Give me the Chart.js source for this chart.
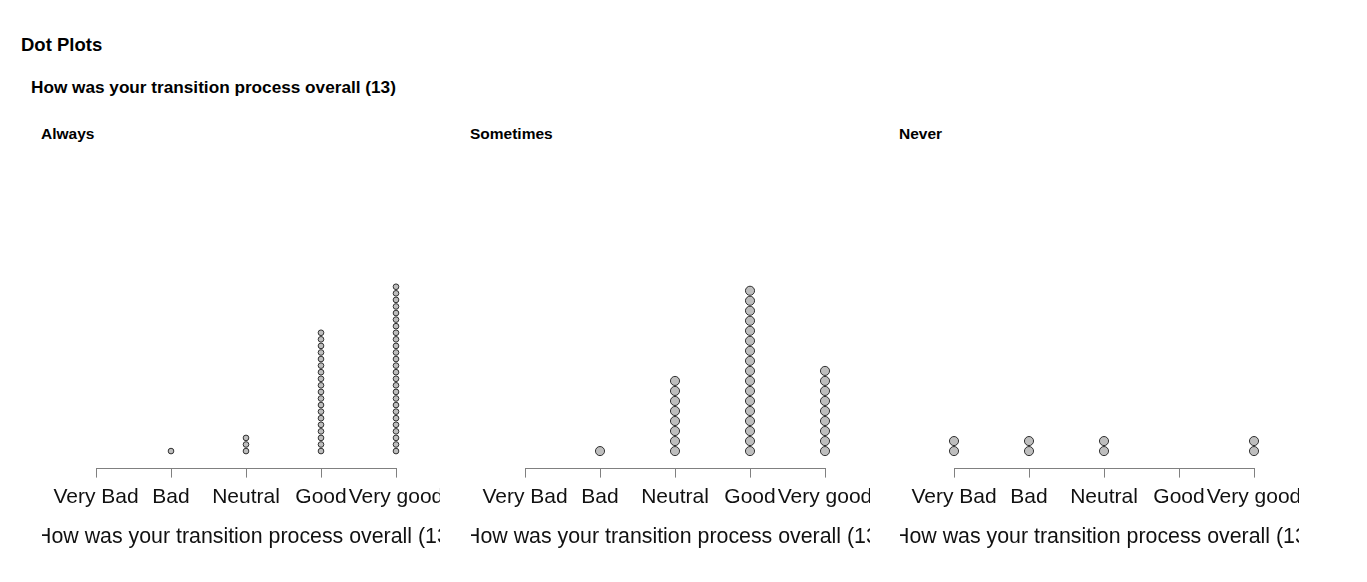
<!DOCTYPE html>
<html>
<head>
<meta charset="utf-8">
<script src="https://cdn.jsdelivr.net/npm/chart.js@4.4.1/dist/chart.umd.min.js"></script>
<style>
  html, body { margin: 0; padding: 0; background: #ffffff; }
  body { width: 1367px; height: 582px; position: relative; overflow: hidden; font-family: "Liberation Sans", Arial, sans-serif; }
  .t { position: absolute; font-weight: bold; color: #000; white-space: nowrap; }
  .panel { position: absolute; top: 150px; height: 432px; overflow: hidden; }
  .panel canvas { position: absolute; left: -40px; top: 0; }
</style>
</head>
<body>
<div class="t" style="left:21px;top:34px;font-size:18.5px;line-height:22px;">Dot Plots</div>
<div class="t" style="left:31px;top:77px;font-size:17.2px;line-height:21px;">How was your transition process overall (13)</div>
<div class="t" style="left:41px;top:124px;font-size:15.5px;line-height:19px;">Always</div>
<div class="t" style="left:470px;top:124px;font-size:15.5px;line-height:19px;">Sometimes</div>
<div class="t" style="left:899px;top:124px;font-size:15.5px;line-height:19px;">Never</div>

<div class="panel" style="left:42px;width:398px;"><canvas id="c0" width="480" height="432"></canvas></div>
<div class="panel" style="left:471px;width:399px;"><canvas id="c1" width="480" height="432"></canvas></div>
<div class="panel" style="left:900px;width:399px;"><canvas id="c2" width="480" height="432"></canvas></div>

<script>
// ---- Data ----
const categories = ['Very Bad', 'Bad', 'Neutral', 'Good', 'Very good'];
const groups = ['Always', 'Sometimes', 'Never'];
const alwaysCounts = [0, 1, 3, 19, 26];
const sometimesCounts = [0, 1, 8, 17, 9];
const neverCounts = [2, 2, 2, 0, 2];
const axisTitle = 'How was your transition process overall (13)';

// ---- Build charts ----
const countsByGroup = [alwaysCounts, sometimesCounts, neverCounts];
const AREA_H = 308;      // chart area height in px
const MAX_STACK = 164;   // px available for the tallest stack
const BOTTOM_GAP = 17.5; // px from axis to lowest dot centre
const FONT = '"Liberation Sans", Arial, sans-serif';
const TITLE_PAD = { top: 8, bottom: 4 };
const TITLE_SIZE = 21;        // size used to reserve layout space
const TITLE_DRAW_SIZE = 21.35; // size actually drawn

function stackPoints(counts) {
  const pts = [];
  counts.forEach((n, i) => {
    for (let k = 1; k <= n; k++) pts.push({ x: i + 1, y: k });
  });
  return pts;
}

// Draws the x-axis title without width compression (the reference lets it overflow and clip)
const axisTitlePlugin = {
  id: 'axisTitleFull',
  afterDraw(chart) {
    const sx = chart.scales.x;
    const ctx = chart.ctx;
    const lh = TITLE_SIZE * 1.2;
    ctx.save();
    ctx.font = TITLE_DRAW_SIZE + 'px ' + FONT;
    ctx.fillStyle = '#111111';
    ctx.textAlign = 'center';
    ctx.textBaseline = 'middle';
    ctx.fillText(axisTitle, (sx.left + sx.right) / 2, sx.bottom - TITLE_PAD.bottom - lh / 2);
    ctx.restore();
  }
};

countsByGroup.forEach((counts, gi) => {
  const maxN = Math.max(...counts);
  const s = Math.min(10, MAX_STACK / Math.max(1, maxN - 1));
  const yMin = 1 - BOTTOM_GAP / s;
  const yMax = yMin + AREA_H / s;
  const r = s / 2 - 0.45;

  new Chart(document.getElementById('c' + gi), {
    type: 'scatter',
    data: {
      datasets: [{
        label: groups[gi],
        data: stackPoints(counts),
        pointRadius: r,
        pointHoverRadius: r,
        pointBackgroundColor: '#BEBEBE',
        pointBorderColor: '#303030',
        pointBorderWidth: 1,
        showLine: false,
        clip: false
      }]
    },
    plugins: [axisTitlePlugin],
    options: {
      responsive: false,
      animation: false,
      events: [],
      layout: { padding: { left: 94, right: 86, top: 10, bottom: 28 } },
      plugins: { legend: { display: false }, tooltip: { enabled: false }, title: { display: false } },
      scales: {
        x: {
          type: 'linear',
          min: 1,
          max: 5,
          border: { display: true, color: '#808080', width: 1 },
          grid: { display: true, drawOnChartArea: false, drawTicks: true, tickLength: 9, color: '#808080', lineWidth: 1 },
          ticks: {
            stepSize: 1,
            autoSkip: false,
            maxRotation: 0,
            minRotation: 0,
            padding: 7,
            color: '#111111',
            font: { family: FONT, size: 21 },
            callback: (v) => (Number.isInteger(v) ? categories[v - 1] : '')
          },
          title: {
            display: true,
            text: axisTitle,
            color: 'rgba(0,0,0,0)',
            font: { family: FONT, size: TITLE_SIZE },
            padding: TITLE_PAD
          }
        },
        y: {
          type: 'linear',
          display: false,
          min: yMin,
          max: yMax
        }
      }
    }
  });
});
</script>
</body>
</html>
